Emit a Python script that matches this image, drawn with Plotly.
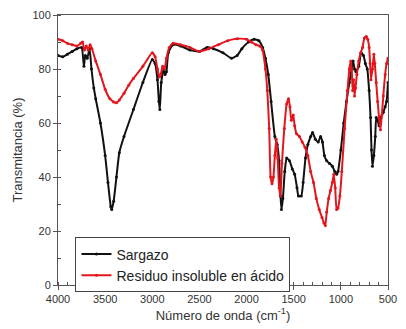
import plotly.graph_objects as go

# Sargazo (black)
sarg_wn = [4000, 3950, 3900, 3850, 3800, 3750, 3725, 3710, 3690, 3665, 3645, 3620, 3600, 3550, 3500, 3470,
           3440, 3430, 3410, 3380, 3350, 3300, 3200, 3100, 3000, 2970, 2945, 2930, 2920, 2905, 2880, 2865,
           2850, 2830, 2780, 2700, 2600, 2500, 2420, 2350, 2250, 2160, 2100, 2050, 1980, 1920, 1870, 1830,
           1800, 1770, 1740, 1700, 1675, 1655, 1640, 1630, 1615, 1595, 1575, 1545, 1515, 1490, 1465, 1450,
           1420, 1400, 1375, 1350, 1320, 1300, 1270, 1240, 1215, 1195, 1175, 1150, 1120, 1090, 1065, 1045,
           1030, 1000, 970, 940, 910, 885, 870, 855, 840, 810, 785, 760, 740, 720, 700, 685, 675, 665,
           650, 635, 625, 610, 595, 575, 550, 530, 515, 500]
sarg_t = [85, 84.5, 85.5, 86.5, 87.5, 88, 81, 85, 84, 87.5, 80, 73, 69, 60, 48, 38,
          29, 28, 31, 40, 49, 55, 65, 75, 83.5, 82, 76, 68, 65, 75, 80, 78,
          79, 86, 89, 88.5, 87, 86.5, 88, 87.5, 86, 84, 85, 87.5, 90, 91, 90.5, 88,
          84, 78, 68, 55, 52, 46, 33, 28, 32, 42, 47, 46, 43, 41, 36, 33,
          33, 38, 47, 52, 55, 56.5, 54, 53, 55, 53, 48, 46, 45, 44, 42, 41,
          42, 50, 60, 68, 75, 80, 83, 80, 79, 81, 86, 85, 82, 80, 72, 62, 50, 44,
          48, 55, 62, 61, 59, 62, 64, 66, 68, 75]

# Residuo insoluble en ácido (red)
res_wn = [4000, 3950, 3900, 3850, 3800, 3760, 3740, 3720, 3700, 3680, 3660, 3640, 3600, 3550, 3500, 3450,
          3410, 3380, 3350, 3300, 3250, 3200, 3100, 3000, 2970, 2945, 2925, 2910, 2890, 2870, 2850,
          2820, 2780, 2700, 2600, 2500, 2400, 2300, 2200, 2100, 2000, 1950, 1900, 1860, 1830, 1800, 1780,
          1760, 1745, 1730, 1715, 1700, 1685, 1670, 1655, 1640, 1625, 1600, 1575, 1555, 1540, 1525, 1505,
          1490, 1470, 1440, 1410, 1380, 1350, 1320, 1290, 1260, 1230, 1200, 1180, 1165, 1150, 1130, 1110,
          1090, 1075, 1060, 1045, 1030, 1010, 990, 960, 930, 910, 895, 885, 875, 865, 855, 845, 830,
          810, 790, 770, 750, 730, 715, 700, 690, 680, 665, 650, 640, 625, 610, 595, 580, 565, 550, 530, 515, 500]
res_t = [91, 90.5, 89.5, 89, 88.5, 89.5, 90, 87, 88.5, 87, 89, 87.5, 83, 78, 72.5, 69,
         67.8, 67.5, 68.5, 71, 74, 76.5, 81, 86, 84.5, 80, 77, 78, 81, 80, 84,
         88, 89.5, 89, 88, 86.5, 87.5, 89, 90.5, 91.2, 91, 90, 89, 88.5, 87, 80, 72,
         58, 40, 37.5, 40, 48, 54, 47, 36, 33, 45, 58, 67, 69, 66, 61, 63,
         59, 56, 55, 53, 51, 48, 42, 38, 32, 28, 25, 23, 22, 27, 32, 35,
         38, 41, 36, 28, 28.5, 33, 42, 58, 72, 80, 83, 80, 72, 76, 70, 73, 78,
         83, 86, 88, 91.5, 92, 91, 88, 82, 76, 80, 85.5, 82, 75, 68, 62, 57.5, 63, 70, 78, 82, 84]

x_ticks = [4000, 3500, 3000, 2500, 2000, 1500, 1000, 500]
y_ticks = [0, 20, 40, 60, 80, 100]

fig = go.Figure()
fig.add_trace(go.Scatter(x=sarg_wn, y=sarg_t, name="Sargazo", mode="lines+markers",
                         line=dict(color="#111111", width=2, shape="spline", smoothing=0.5),
                         marker=dict(size=3, color="#111111")))
fig.add_trace(go.Scatter(x=res_wn, y=res_t, name="Residuo insoluble en ácido", mode="lines+markers",
                         line=dict(color="#e3161d", width=2, shape="spline", smoothing=0.5),
                         marker=dict(size=3, color="#e3161d")))

axis_common = dict(showline=True, linecolor="#555555", linewidth=1, mirror=True, showgrid=False,
                   zeroline=False, ticks="outside", ticklen=4, tickcolor="#555555",
                   tickfont=dict(family="Liberation Sans, Arial", size=11, color="#333333"))

fig.update_xaxes(range=[4000, 500], tickvals=x_ticks, ticktext=[str(v) for v in x_ticks],
                 minor=dict(dtick=100, ticks="inside", ticklen=3, tickcolor="#555555"),
                 title=dict(text="Número de onda (cm<sup>-1</sup>)", standoff=6,
                            font=dict(family="Liberation Sans, Arial", size=13, color="#333333")),
                 **axis_common)
fig.update_yaxes(range=[0, 100], tickvals=y_ticks, ticktext=[str(v) for v in y_ticks],
                 minor=dict(dtick=10, ticks="inside", ticklen=3, tickcolor="#555555"),
                 title=dict(text="Transmitancia (%)", standoff=6,
                            font=dict(family="Liberation Sans, Arial", size=13, color="#333333")),
                 **axis_common)

fig.update_layout(
    width=406, height=329,
    margin=dict(l=58, r=9, t=12, b=44),
    paper_bgcolor="white", plot_bgcolor="white",
    showlegend=True,
    legend=dict(x=0.053, y=0.176, xanchor="left", yanchor="top",
                bordercolor="#444444", borderwidth=1, bgcolor="white",
                font=dict(family="Liberation Sans, Arial", size=14, color="#222222"),
                tracegroupgap=0, itemwidth=30),
)

fig.write_html("out.html")
